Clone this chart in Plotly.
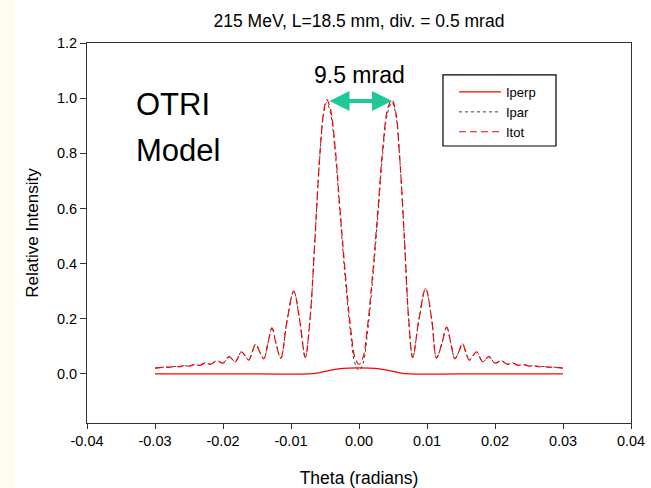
import plotly.graph_objects as go

# ---------------- data ----------------
theta = [
    -0.0300, -0.0293, -0.0286, -0.0279, -0.0272, -0.0264, -0.0257, -0.0250,
    -0.0242, -0.0234, -0.0226, -0.0218, -0.0209, -0.0200, -0.0191, -0.0182,
    -0.0173, -0.0167, -0.0162, -0.0157, -0.0152, -0.0146, -0.0140, -0.0134,
    -0.0128, -0.0122, -0.0115, -0.0106, -0.0096, -0.0087, -0.0079, -0.0072,
    -0.0065, -0.0058, -0.0052, -0.00475, -0.0042, -0.0035, -0.0028, -0.0020,
    -0.0012, -0.0006, 0.0,
    0.0006, 0.0012, 0.0020, 0.0028, 0.0035, 0.0042, 0.00485, 0.0054,
    0.0060, 0.0067, 0.0073, 0.0079, 0.0088, 0.0098, 0.0107, 0.0114,
    0.0122, 0.0129, 0.0135, 0.0141, 0.0147, 0.0152, 0.0157, 0.0162,
    0.0167, 0.0173, 0.0182, 0.0191, 0.0200, 0.0209, 0.0218, 0.0226,
    0.0234, 0.0242, 0.0250, 0.0257, 0.0264, 0.0272, 0.0279, 0.0286,
    0.0293, 0.0300,
]

itot = [
    0.021, 0.023, 0.025, 0.024, 0.027, 0.026, 0.030, 0.028,
    0.034, 0.031, 0.040, 0.035, 0.048, 0.039, 0.063, 0.044,
    0.080, 0.064, 0.050, 0.080, 0.108, 0.080, 0.055, 0.110,
    0.167, 0.110, 0.057, 0.190, 0.300, 0.190, 0.060, 0.200,
    0.480, 0.780, 0.950, 0.995, 0.960, 0.820, 0.600, 0.360,
    0.160, 0.060, 0.035,
    0.060, 0.160, 0.360, 0.600, 0.820, 0.960, 0.995, 0.950,
    0.780, 0.480, 0.200, 0.060, 0.195, 0.310, 0.195, 0.058,
    0.112, 0.170, 0.112, 0.055, 0.082, 0.110, 0.080, 0.050,
    0.064, 0.080, 0.044, 0.063, 0.039, 0.048, 0.035, 0.040,
    0.031, 0.034, 0.028, 0.030, 0.026, 0.027, 0.024, 0.025,
    0.023, 0.021,
]

ipar = [
    0.021, 0.023, 0.025, 0.024, 0.027, 0.026, 0.030, 0.028,
    0.034, 0.031, 0.040, 0.035, 0.048, 0.039, 0.063, 0.044,
    0.080, 0.064, 0.050, 0.080, 0.108, 0.080, 0.055, 0.110,
    0.167, 0.110, 0.057, 0.190, 0.300, 0.190, 0.060, 0.200,
    0.478, 0.776, 0.942, 0.984, 0.946, 0.803, 0.582, 0.340,
    0.139, 0.039, 0.013,
    0.039, 0.139, 0.340, 0.582, 0.803, 0.946, 0.984, 0.942,
    0.776, 0.478, 0.200, 0.060, 0.195, 0.310, 0.195, 0.058,
    0.112, 0.170, 0.112, 0.055, 0.082, 0.110, 0.080, 0.050,
    0.064, 0.080, 0.044, 0.063, 0.039, 0.048, 0.035, 0.040,
    0.031, 0.034, 0.028, 0.030, 0.026, 0.027, 0.024, 0.025,
    0.023, 0.021,
]

theta_perp = [-0.0300, -0.0150, -0.0075, -0.0060, -0.0045, -0.0030, -0.0015,
              0.0, 0.0015, 0.0030, 0.0045, 0.0060, 0.0075, 0.0150, 0.0300]
iperp = [0.0, 0.0, 0.0, 0.004, 0.012, 0.018, 0.021,
         0.022, 0.021, 0.018, 0.012, 0.004, 0.0, 0.0, 0.0]

x_ticks = [-0.04, -0.03, -0.02, -0.01, 0.00, 0.01, 0.02, 0.03, 0.04]
x_tick_labels = ["-0.04", "-0.03", "-0.02", "-0.01", "0.00", "0.01", "0.02", "0.03", "0.04"]
y_ticks = [0.0, 0.2, 0.4, 0.6, 0.8, 1.0, 1.2]
y_tick_labels = ["0.0", "0.2", "0.4", "0.6", "0.8", "1.0", "1.2"]

FONT = "Liberation Sans, Arial, sans-serif"

fig = go.Figure()
fig.add_trace(go.Scatter(x=theta_perp, y=iperp, mode="lines", name="Iperp",
                         line=dict(color="#FF0000", width=1.3, shape="spline")))
fig.add_trace(go.Scatter(x=theta, y=ipar, mode="lines", name="Ipar",
                         line=dict(color="#404040", width=1, dash="dot", shape="spline")))
fig.add_trace(go.Scatter(x=theta, y=itot, mode="lines", name="Itot",
                         line=dict(color="#FF0000", width=1.2, dash="7px,4px", shape="spline")))

fig.update_layout(
    width=651, height=488,
    margin=dict(l=87, r=20, t=43, b=65, autoexpand=False),
    paper_bgcolor="white", plot_bgcolor="white",
    font=dict(family=FONT, color="black", size=14),
    title=dict(text="215 MeV, L=18.5 mm, div. = 0.5 mrad", x=0.5, xref="paper",
               xanchor="center", y=0.958, yanchor="middle",
               font=dict(size=17.5, family=FONT)),
    showlegend=True,
    legend=dict(x=0.6746, y=0.9105, xanchor="left", yanchor="top",
                bgcolor="rgba(0,0,0,0)", borderwidth=0,
                font=dict(size=13, family=FONT), tracegroupgap=0,
                itemwidth=42),
    xaxis=dict(range=[-0.04, 0.04], tickvals=x_ticks, ticktext=x_tick_labels,
               automargin=False,
               showgrid=False, zeroline=False, showline=True, linecolor="#333333",
               linewidth=1, mirror=True, ticks="outside", ticklen=5, tickcolor="#333333",
               tickfont=dict(size=14.5),
               title=dict(text="Theta (radians)", font=dict(size=17.5), standoff=24)),
    yaxis=dict(range=[-0.178, 1.2], tickvals=y_ticks, ticktext=y_tick_labels,
               automargin=False,
               showgrid=False, zeroline=False, showline=True, linecolor="#333333",
               linewidth=1, mirror=True, ticks="outside", ticklen=6, tickcolor="#333333",
               tickfont=dict(size=14.5),
               title=dict(text="Relative Intensity", font=dict(size=17), standoff=13)),
    shapes=[
        dict(type="rect", xref="paper", yref="paper",
             x0=-0.165, x1=-0.1324, y0=-0.2, y1=1.2,
             fillcolor="#FEFCF0", line=dict(width=0), layer="below"),
        dict(type="rect", xref="paper", yref="paper",
             x0=0.6544, x1=0.8621, y0=0.729, y1=0.916,
             fillcolor="rgba(0,0,0,0)", line=dict(color="black", width=1.2), layer="above"),
    ],
    annotations=[
        dict(text="OTRI", x=-0.0331, y=0.976, xref="x", yref="y",
             xanchor="left", yanchor="middle", showarrow=False,
             font=dict(size=31, family=FONT)),
        dict(text="Model", x=-0.0331, y=0.809, xref="x", yref="y",
             xanchor="left", yanchor="middle", showarrow=False,
             font=dict(size=31, family=FONT)),
        dict(text="9.5 mrad", x=0.0, y=1.083, xref="x", yref="y",
             xanchor="center", yanchor="middle", showarrow=False,
             font=dict(size=23, family=FONT)),
        dict(text="", x=0.00485, y=0.99, ax=-0.00455, ay=0.99, xref="x", yref="y",
             axref="x", ayref="y", showarrow=True, arrowhead=2, arrowside="end+start",
             arrowwidth=4, arrowsize=1.0, arrowcolor="#1FC997", standoff=0, startstandoff=0),
    ],
)

fig.write_html("out.html")
